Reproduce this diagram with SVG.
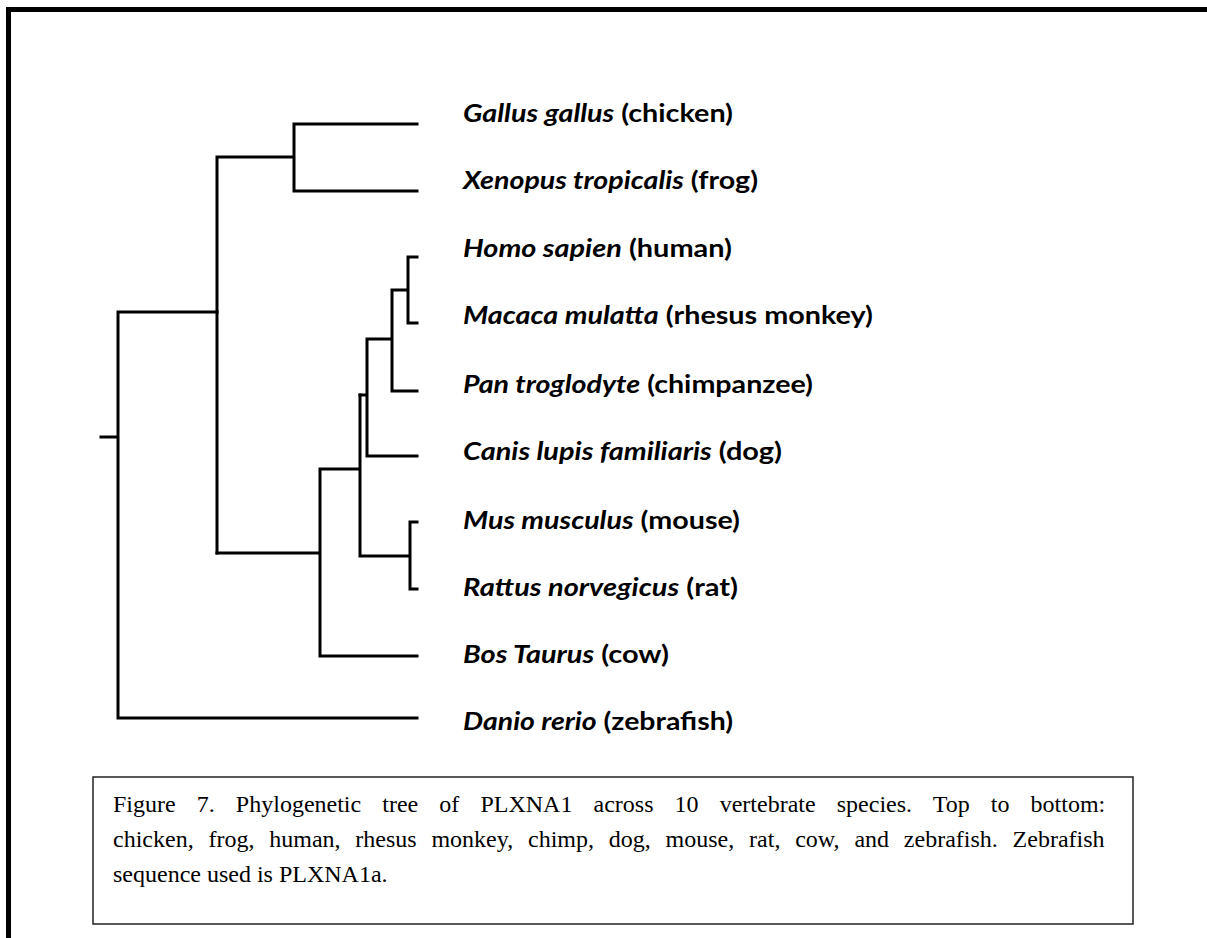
<svg xmlns="http://www.w3.org/2000/svg" width="1207" height="938" viewBox="0 0 1207 938">
  <style>
    .frame { fill: none; stroke: #000; stroke-width: 5; }
    .branch { fill: none; stroke: #000; stroke-width: 3; stroke-linecap: square; }
    .label { font-family: Lato, "Open Sans", "Liberation Sans", sans-serif; font-size: 25px; font-weight: bold; fill: #000; }
    .sp { font-style: italic; }
    .capbox { fill: #fff; stroke: #222; stroke-width: 1.5; }
    .cap { font-family: "Liberation Serif", "Times New Roman", serif; font-size: 24px; fill: #000; }
  </style>
  <rect x="0" y="0" width="1207" height="938" fill="#fff"/>
  <path class="frame" d="M8.5,938 V9.5 H1207"/>

  <g id="connectors">
    <path class="branch" d="M101,437 H118 M118,312 V718 M118,718 H417 M118,312 H217"/>
    <path class="branch" d="M217,157 V553 M217,157 H294 M294,124 V191 M294,124 H417 M294,191 H417"/>
    <path class="branch" d="M217,553 H320 M320,469 V656 M320,656 H417 M320,469 H360 M360,395 V556 M360,556 H410 M410,522 V589 M410,522 H417 M410,589 H417"/>
    <path class="branch" d="M360,395 H367 M367,339 V456 M367,456 H417 M367,339 H392 M392,290 V391 M392,391 H417 M392,290 H408 M408,257 V323 M408,257 H417 M408,323 H417"/>
  </g>

  <g id="node-chicken"><text class="label" x="463" y="122" textLength="270" lengthAdjust="spacingAndGlyphs"><tspan class="sp">Gallus gallus</tspan> (chicken)</text></g>
  <g id="node-frog"><text class="label" x="463" y="189" textLength="295" lengthAdjust="spacingAndGlyphs"><tspan class="sp">Xenopus tropicalis</tspan> (frog)</text></g>
  <g id="node-human"><text class="label" x="463" y="257" textLength="269" lengthAdjust="spacingAndGlyphs"><tspan class="sp">Homo sapien</tspan> (human)</text></g>
  <g id="node-rhesus"><text class="label" x="463" y="324" textLength="410" lengthAdjust="spacingAndGlyphs"><tspan class="sp">Macaca mulatta</tspan> (rhesus monkey)</text></g>
  <g id="node-chimp"><text class="label" x="463" y="393" textLength="350" lengthAdjust="spacingAndGlyphs"><tspan class="sp">Pan troglodyte</tspan> (chimpanzee)</text></g>
  <g id="node-dog"><text class="label" x="463" y="460" textLength="319" lengthAdjust="spacingAndGlyphs"><tspan class="sp">Canis lupis familiaris</tspan> (dog)</text></g>
  <g id="node-mouse"><text class="label" x="463" y="529" textLength="277" lengthAdjust="spacingAndGlyphs"><tspan class="sp">Mus musculus</tspan> (mouse)</text></g>
  <g id="node-rat"><text class="label" x="463" y="596" textLength="275" lengthAdjust="spacingAndGlyphs"><tspan class="sp">Rattus norvegicus</tspan> (rat)</text></g>
  <g id="node-cow"><text class="label" x="463" y="663" textLength="206" lengthAdjust="spacingAndGlyphs"><tspan class="sp">Bos Taurus</tspan> (cow)</text></g>
  <g id="node-zebrafish"><text class="label" x="463" y="730" textLength="270" lengthAdjust="spacingAndGlyphs"><tspan class="sp">Danio rerio</tspan> (zebrafish)</text></g>

  <g id="caption">
    <rect class="capbox" x="93" y="777" width="1040" height="147"/>
    <text class="cap" x="113" y="812" word-spacing="15.1">Figure 7. Phylogenetic tree of PLXNA1 across 10 vertebrate species. Top to bottom:</text>
    <text class="cap" x="113" y="847" word-spacing="8.8">chicken, frog, human, rhesus monkey, chimp, dog, mouse, rat, cow, and zebrafish. Zebrafish</text>
    <text class="cap" x="113" y="882">sequence used is PLXNA1a.</text>
  </g>
</svg>
